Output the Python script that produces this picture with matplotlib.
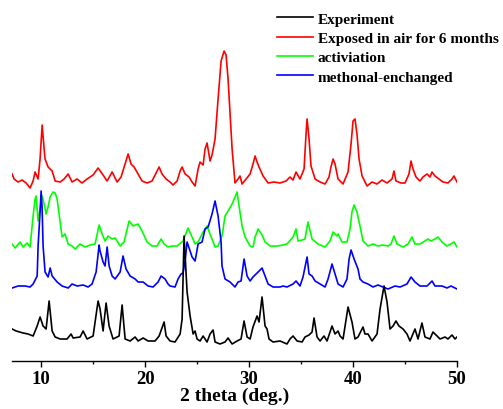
import numpy as np
import matplotlib
matplotlib.use("Agg")
import matplotlib.pyplot as plt
from matplotlib.ticker import MultipleLocator

# powder patterns, intensity above each pattern's own baseline (arb. units)
exp_2theta = [7.21, 7.60, 8.27, 8.75, 9.23, 9.62, 9.90, 10.19, 10.48, 10.77, 11.06, 11.35, 11.83, 12.50,
              12.88, 13.08, 13.75, 14.04, 14.42, 15.00, 15.48, 15.67, 15.96, 16.25, 16.54, 16.92, 17.50,
              17.79, 18.08, 18.56, 19.04, 19.33, 19.81, 20.29, 20.96, 21.35, 21.83, 22.02, 22.40, 22.88,
              23.37, 23.56, 23.75, 24.04, 24.33, 24.62, 24.81, 25.00, 25.29, 25.58, 25.96, 26.25, 26.54,
              26.73, 27.21, 27.69, 27.98, 28.37, 28.85, 29.23, 29.52, 29.81, 30.10, 30.38, 30.77, 30.96,
              31.25, 31.54, 31.73, 31.92, 32.31, 32.98, 33.65, 33.94, 34.23, 34.62, 35.10, 35.38, 35.77,
              36.06, 36.25, 36.54, 36.83, 37.21, 37.50, 37.98, 38.27, 38.56, 38.75, 39.04, 39.52, 39.90,
              40.19, 40.48, 40.96, 41.15, 41.44, 41.83, 42.31, 42.60, 42.98, 43.27, 43.56, 43.85, 44.13,
              44.42, 44.81, 45.19, 45.48, 45.96, 46.25, 46.63, 46.92, 47.40, 47.69, 48.08, 48.37, 48.85,
              49.13, 49.52, 49.81, 50.00]
exp_int = [10, 8, 6, 5, 3, 13, 22, 13, 10, 38, 8, 2, 0, 0,
           5, 1, 2, 8, 0, 3, 38, 30, 8, 36, 13, 0, 3,
           34, 0, -2, 2, -2, 1, -2, -2, 3, 17, 3, -2, -3,
           5, 20, 103, 47, 23, 5, 8, 0, -2, 3, -3, 5, 9,
           -3, -5, -3, 1, -5, -2, 0, 18, 2, 0, 12, 23, 17,
           42, 13, 10, 0, -3, -2, -5, 0, 3, -2, -3, 2, 4,
           7, 21, 2, -2, 3, -2, 13, 5, 8, 3, 0, 32, 17,
           0, 2, 12, 5, 5, -2, 5, 30, 53, 37, 10, 13, 18,
           13, 10, 5, -2, 10, 0, 16, 2, 0, 7, 3, 0, 2,
           0, 4, 0, 2]

air_2theta = [7.21, 7.40, 7.79, 8.17, 8.56, 8.94, 9.23, 9.42, 9.71, 9.90, 10.10, 10.29, 10.38, 10.67,
              11.06, 11.35, 11.83, 12.21, 12.60, 12.98, 13.46, 13.94, 14.42, 15.00, 15.48, 15.96, 16.35,
              16.83, 17.31, 17.69, 18.08, 18.37, 18.65, 18.94, 19.33, 19.71, 20.19, 20.67, 21.06, 21.35,
              21.63, 22.02, 22.40, 22.69, 23.08, 23.37, 23.56, 23.85, 24.23, 24.52, 24.81, 25.10, 25.29,
              25.58, 25.77, 25.96, 26.25, 26.44, 26.73, 27.02, 27.31, 27.60, 27.79, 27.98, 28.17, 28.37,
              28.65, 28.94, 29.13, 29.33, 29.71, 30.10, 30.38, 30.58, 30.77, 30.96, 31.35, 31.83, 32.40,
              32.98, 33.56, 33.94, 34.23, 34.52, 34.90, 35.29, 35.48, 35.58, 35.77, 35.96, 36.35, 36.83,
              37.31, 37.69, 37.88, 38.08, 38.27, 38.56, 39.04, 39.52, 39.81, 40.00, 40.19, 40.38, 40.58,
              40.87, 41.35, 41.83, 42.31, 42.79, 43.27, 43.75, 43.94, 44.13, 44.62, 45.00, 45.38, 45.58,
              45.77, 46.06, 46.44, 46.73, 47.12, 47.40, 47.60, 47.88, 48.27, 48.65, 49.13, 49.52, 49.71,
              50.00]
air_int = [8, 3, 0, 2, -1, -6, 1, 10, 3, 23, 57, 33, 23, 15,
           11, 1, 0, 3, 8, 0, 3, -1, 3, 7, 14, 7, 1,
           10, 0, 5, 18, 28, 18, 15, 8, 1, -1, 1, 9, 15,
           8, 3, 0, -3, 1, 11, 15, 8, 5, 0, -4, 13, 20,
           17, 33, 39, 21, 27, 43, 83, 121, 131, 127, 103, 68, 33,
           -1, 3, 6, -2, 3, 8, 18, 26, 20, 15, 6, -1, 0,
           -1, 1, 5, 2, 10, 3, 13, 48, 63, 43, 16, 3, 0,
           -2, 5, 15, 23, 18, 3, -2, 10, 38, 61, 63, 48, 23,
           6, -4, 0, -2, 2, -1, 3, 11, 1, -1, -1, 8, 21,
           13, 5, 1, 5, 8, 5, 10, 6, 3, 0, -1, 3, 6,
           0]

act_2theta = [7.21, 7.50, 7.98, 8.27, 8.65, 8.94, 9.23, 9.42, 9.52, 9.71, 9.90, 10.10, 10.29, 10.48,
              10.67, 10.87, 11.15, 11.35, 11.54, 11.83, 12.02, 12.31, 12.60, 12.98, 13.27, 13.75, 14.23,
              14.71, 15.19, 15.58, 15.87, 16.15, 16.44, 16.83, 17.12, 17.60, 17.98, 18.46, 18.85, 19.33,
              19.71, 20.19, 20.67, 21.15, 21.54, 21.83, 22.21, 22.60, 23.08, 23.65, 24.13, 24.52, 24.81,
              25.10, 25.58, 25.96, 26.25, 26.73, 27.02, 27.40, 27.69, 27.98, 28.37, 28.65, 28.85, 29.04,
              29.33, 29.62, 30.10, 30.38, 30.58, 30.87, 31.25, 31.54, 32.02, 32.79, 33.65, 34.23, 34.52,
              34.71, 35.10, 35.38, 35.67, 36.06, 36.63, 37.31, 37.79, 38.08, 38.46, 38.56, 38.94, 39.42,
              39.71, 39.90, 40.10, 40.38, 40.67, 40.96, 41.44, 41.92, 42.40, 42.88, 43.37, 43.65, 43.94,
              44.23, 44.81, 45.29, 45.67, 45.96, 46.44, 46.92, 47.21, 47.50, 47.88, 48.17, 48.56, 49.04,
              49.42, 49.71, 50.00]
act_int = [1, -3, 3, -2, 2, -2, 29, 46, 49, 24, 36, 49, 41, 31,
           38, 48, 53, 52, 46, 23, 8, 11, 1, -1, -4, 1, -2,
           0, 1, 20, 11, 4, 9, 6, 7, -1, 3, 24, 19, 21,
           14, 3, -1, -1, 6, 1, -2, -1, -1, 4, 17, 8, 1,
           3, 13, 19, 11, -2, -1, 9, 29, 34, 41, 48, 53, 39,
           19, 8, -1, -2, 8, 16, 10, 3, -1, -1, 1, 8, 16,
           4, 5, 6, 23, 6, 1, -2, 4, 13, 9, 11, 3, 3,
           16, 33, 40, 33, 19, 4, -1, 1, -1, 0, -1, 1, 9,
           1, -2, 1, 8, 1, 1, 4, 6, 4, 6, 8, 3, -1,
           1, 3, -2]

meoh_2theta = [7.21, 7.79, 8.46, 8.94, 9.23, 9.62, 9.71, 9.90, 10.00, 10.10, 10.19, 10.38, 10.67, 10.87,
               11.06, 11.54, 12.02, 12.60, 12.98, 13.46, 14.04, 14.52, 14.90, 15.29, 15.58, 15.67, 15.96,
               16.15, 16.35, 16.54, 16.83, 17.12, 17.60, 17.88, 18.17, 18.56, 19.04, 19.33, 19.81, 20.29,
               20.77, 21.25, 21.54, 21.92, 22.21, 22.40, 22.88, 23.17, 23.46, 23.65, 23.85, 24.04, 24.33,
               24.52, 24.81, 25.10, 25.48, 25.77, 26.06, 26.44, 26.73, 27.02, 27.31, 27.40, 27.69, 28.17,
               28.65, 28.94, 29.23, 29.52, 29.81, 30.10, 30.38, 30.87, 31.25, 31.54, 31.83, 32.31, 32.98,
               33.27, 33.65, 34.23, 34.52, 34.90, 35.19, 35.58, 35.77, 36.06, 36.35, 36.83, 37.31, 37.60,
               37.98, 38.27, 38.56, 39.04, 39.42, 39.62, 39.81, 40.10, 40.48, 40.67, 40.96, 41.44, 41.92,
               42.40, 42.88, 43.37, 44.04, 44.52, 45.19, 45.58, 45.96, 46.44, 47.12, 47.60, 47.88, 48.56,
               49.04, 49.42, 49.81, 50.00]
meoh_int = [0, 2, 2, 1, 4, 12, 42, 76, 97, 79, 42, 16, 11, 20,
            12, 6, 2, 0, 4, 2, 3, 1, 4, 16, 43, 37, 26,
            22, 41, 22, 12, 9, 16, 32, 19, 12, 9, 6, 6, 2,
            1, 6, 12, 9, 4, 2, 1, 9, 14, 15, 27, 46, 37,
            31, 27, 44, 46, 59, 61, 74, 87, 72, 46, 22, 9, 6,
            1, 6, 7, 29, 12, 7, 11, 16, 20, 12, 4, 1, 1,
            2, 1, 4, 7, 2, 11, 31, 14, 12, 7, 4, 1, 9,
            24, 14, 4, 1, 9, 29, 38, 29, 19, 9, 6, 4, 1,
            3, 1, -1, 2, 1, 4, 11, 6, 2, 2, 7, 2, 2,
            0, 2, 0, -1]

labels = ["Experiment", "Exposed in air for 6 months", "activiation", "methonal-enchanged"]
colors = ["black", "red", "#00ff00", "blue"]
offsets = [22, 179, 116, 73]  # vertical shift of each pattern
zorders = [5, 2, 3, 4]

plt.rcParams["font.family"] = ["Liberation Serif", "DejaVu Serif"]
plt.rcParams["font.weight"] = "bold"

fig = plt.figure(figsize=(5.03, 4.10), dpi=100)
ax = fig.add_axes([12 / 503, 48 / 410, 445 / 503, 362 / 410])

series = [(exp_2theta, exp_int), (air_2theta, air_int), (act_2theta, act_int), (meoh_2theta, meoh_int)]
lines = []
for (xs, ys), lab, col, off, z in zip(series, labels, colors, offsets, zorders):
    ln, = ax.plot(xs, np.array(ys) + off, color=col, lw=1.2, label=lab, zorder=z)
    lines.append(ln)

ax.set_xlim(7.2, 50)
ax.set_ylim(0, 362)
for side in ["left", "top", "right"]:
    ax.spines[side].set_visible(False)
ax.spines["bottom"].set_linewidth(1.0)
ax.set_yticks([])
ax.xaxis.set_major_locator(MultipleLocator(10))
ax.xaxis.set_minor_locator(MultipleLocator(5))
ax.tick_params(axis="x", which="major", direction="out", length=4.5, width=1.0, labelsize=13.5, pad=2)
ax.tick_params(axis="x", which="minor", direction="out", length=2.5, width=1.0)
ax.set_xlabel("2 theta (deg.)", fontsize=14, fontweight="bold", labelpad=0)

ax.legend(handles=lines, loc="upper left", bbox_to_anchor=(277 / 503, 1 - 13 / 410),
          bbox_transform=fig.transFigure, frameon=False, fontsize=11, handlelength=2.35,
          handletextpad=0.33, labelspacing=0.37, borderpad=0, borderaxespad=0)

fig.savefig("out.png", dpi=100)
